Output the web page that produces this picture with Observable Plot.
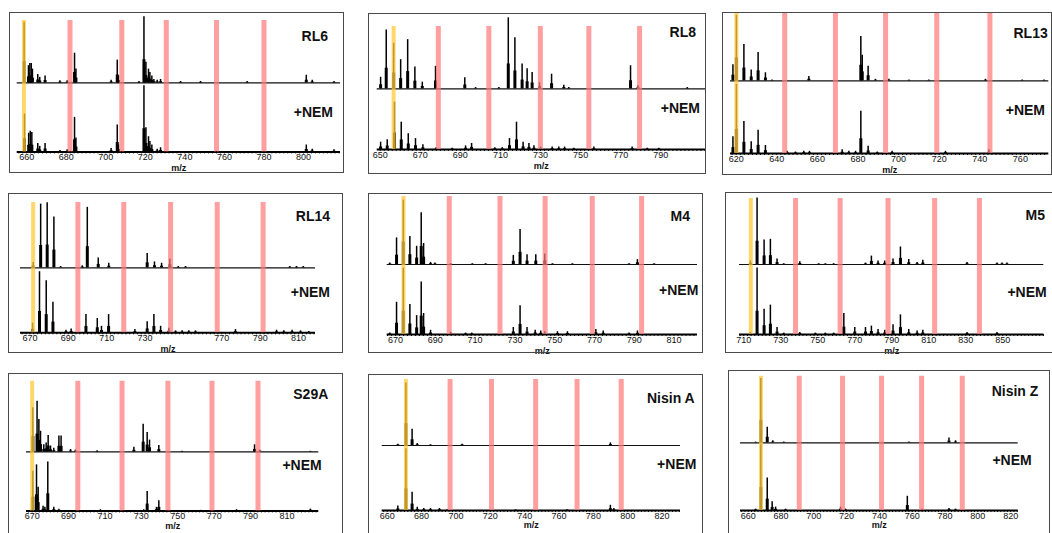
<!DOCTYPE html>
<html>
<head>
<meta charset="utf-8">
<script src="https://cdn.jsdelivr.net/npm/d3@7"></script>
<script src="https://cdn.jsdelivr.net/npm/@observablehq/plot@0.6"></script>
<style>
  html, body { margin: 0; padding: 0; background: #fff; }
  #page { position: relative; width: 1052px; height: 533px; overflow: hidden; font-family: "Liberation Sans", Arial, sans-serif; }
  .panel { position: absolute; }
  .panel svg { position: absolute; left: 0; top: 0; overflow: visible; background: transparent; }
  .frame { position: absolute; left: 0; top: 0; right: 0; bottom: 0; border: 1px solid #4a4a4a; box-sizing: border-box; pointer-events: none; }
  .lbl { position: absolute; font-weight: bold; font-size: 14px; line-height: 1; transform: translateY(-50%); white-space: nowrap; color: #111; }
</style>
</head>
<body>
<div id="page"></div>
<script>
// ---------- DATA: [m/z, relative intensity] (gap between the two baselines = 1) ----------
const rl6Top = [[658.7,0.88],[660.9,0.25],[661.6,0.28],[662.3,0.28],[662.9,0.2],[665.6,0.12],[666.6,0.08],[669.3,0.1],[676.8,0.03],[680.5,0.03],[684.2,0.43],[684.9,0.2],[702.7,0.04],[705.8,0.33],[706.4,0.1],[716.8,0.02],[719.3,0.96],[720.3,0.3],[721.6,0.2],[722.3,0.15],[723.3,0.1],[724.3,0.05],[726.0,0.04],[727.7,0.05],[737.8,0.02],[747.9,0.02],[771.5,0.02],[801.4,0.11],[804.4,0.04],[815.4,0.02]];
const rl6Nem = [[658.9,0.55],[661.0,0.27],[661.8,0.3],[662.6,0.28],[665.6,0.12],[666.6,0.08],[669.3,0.12],[676.8,0.02],[680.5,0.03],[684.2,0.5],[684.9,0.2],[702.7,0.05],[705.8,0.39],[706.4,0.1],[719.3,0.96],[720.3,0.35],[721.6,0.22],[722.3,0.15],[723.3,0.1],[726.0,0.04],[727.7,0.06],[801.4,0.1],[804.4,0.04],[815.4,0.03]];
const rl6Yellow = 658.6;
const rl6Pink = [681.9, 708.1, 730.6, 756.0, 780.0];
const rl6Ticks = [660, 680, 700, 720, 740, 760, 780, 800];

const rl8Top = [[650.2,0.19],[653.0,0.97],[656.7,0.75],[660.2,0.48],[663.7,0.81],[667.3,0.36],[671.0,0.11],[677.6,0.37],[692.2,0.18],[697.6,0.02],[709.2,0.02],[713.9,1.17],[717.2,0.84],[720.8,0.41],[723.3,0.33],[725.8,0.27],[729.5,0.1],[735.5,0.24],[741.6,0.06],[744.1,0.02],[774.9,0.38],[778.6,0.05],[803.2,0.02]];
const rl8Nem = [[650.2,0.12],[653.5,0.16],[657.1,0.78],[660.5,0.45],[664.0,0.26],[667.6,0.18],[671.3,0.08],[677.9,0.03],[685.9,0.02],[692.6,0.06],[695.6,0.1],[707.2,0.03],[710.9,0.03],[714.5,0.18],[718.0,0.45],[721.3,0.12],[724.2,0.1],[726.7,0.06],[730.0,0.04],[735.8,0.04],[739.1,0.04],[742.0,0.04],[746.6,0.02],[756.6,0.04],[775.7,0.04],[783.2,0.02],[789.0,0.02]];
const rl8Yellow = 656.7;
const rl8Pink = [679.0, 704.2, 729.9, 754.1, 779.4];
const rl8Ticks = [650, 670, 690, 710, 730, 750, 770, 790];

const rl13Top = [[618.4,0.22],[620.1,0.9],[623.8,0.5],[627.4,0.15],[630.8,0.39],[634.4,0.11],[637.7,0.01],[655.8,0.06],[681.4,0.61],[682.1,0.35],[685.0,0.2],[688.6,0.02],[695.2,0.02],[705.1,0.01],[714.9,0.01],[742.8,0.02],[760.9,0.01],[771.6,0.01]];
const rl13Nem = [[618.4,0.23],[620.1,0.95],[623.8,0.44],[627.4,0.16],[630.8,0.32],[634.4,0.11],[645.1,0.03],[649.2,0.02],[653.3,0.03],[656.1,0.03],[672.2,0.05],[675.5,0.03],[678.8,0.03],[681.4,0.58],[685.0,0.1],[689.5,0.02],[696.8,0.03],[723.1,0.03],[744.5,0.05]];
const rl13Yellow = 620.1;
const rl13Pink = [643.9, 668.9, 693.6, 718.8, 745.0];
const rl13Ticks = [620, 640, 660, 680, 700, 720, 740, 760];

const rl14Top = [[671.7,0.08],[675.6,0.98],[679.0,1.0],[682.5,0.78],[686.0,0.02],[697.3,0.03],[699.9,0.93],[705.6,0.15],[711.1,0.07],[731.1,0.22],[734.9,0.09],[738.6,0.07],[742.9,0.13],[747.3,0.02],[751.1,0.02],[805.4,0.02],[808.9,0.02],[812.4,0.02]];
const rl14Nem = [[671.4,0.15],[675.0,0.94],[678.5,0.8],[682.0,0.47],[688.8,0.04],[691.5,0.06],[699.2,0.28],[705.1,0.22],[707.3,0.1],[711.0,0.28],[724.7,0.05],[731.1,0.17],[734.6,0.28],[738.1,0.1],[742.4,0.07],[745.9,0.03],[749.3,0.03],[752.8,0.03],[756.3,0.03],[777.1,0.05],[798.5,0.04],[802.3,0.03],[806.6,0.04],[811.0,0.03],[815.3,0.02]];
const rl14Yellow = 671.7;
const rl14Pink = [695.0, 718.9, 743.3, 767.6, 791.5];
const rl14Ticks = [670, 690, 710, 730, 770, 790, 810];

const m4Top = [[667.1,0.02],[670.5,0.38],[673.9,0.92],[677.2,0.4],[680.6,0.26],[682.9,0.74],[684.1,0.3],[687.6,0.03],[689.8,0.02],[697.7,0.01],[708.6,0.01],[715.3,0.01],[729.2,0.13],[732.6,0.5],[736.1,0.14],[740.5,0.14],[745.0,0.15],[748.9,0.01],[758.9,0.01],[787.4,0.01],[791.6,0.07],[800.0,0.01]];
const m4Nem = [[667.1,0.02],[670.5,0.46],[673.9,0.95],[677.2,0.43],[680.6,0.27],[682.9,0.75],[684.1,0.3],[687.6,0.06],[697.7,0.03],[705.2,0.02],[708.3,0.02],[729.2,0.1],[732.6,0.41],[736.1,0.1],[740.2,0.06],[743.0,0.05],[745.0,0.04],[751.4,0.04],[756.4,0.04],[770.7,0.07],[774.4,0.05],[787.4,0.02],[791.6,0.05]];
const m4Yellow = 674.0;
const m4Pink = [697.0, 722.5, 745.2, 768.9, 793.7];
const m4Ticks = [670, 690, 710, 730, 750, 770, 790, 810];

const m5Top = [[713.6,0.05],[717.2,0.95],[721.0,0.35],[724.4,0.36],[728.0,0.08],[731.6,0.01],[740.3,0.04],[750.5,0.01],[754.1,0.01],[758.6,0.01],[775.8,0.02],[779.0,0.12],[782.6,0.05],[786.2,0.05],[790.7,0.08],[794.7,0.25],[799.2,0.07],[803.7,0.03],[806.8,0.06],[830.7,0.03],[846.9,0.02],[849.6,0.02],[852.3,0.02]];
const m5Nem = [[713.6,0.03],[717.2,0.95],[721.0,0.36],[724.4,0.42],[728.0,0.1],[731.6,0.02],[740.3,0.03],[748.7,0.02],[754.1,0.02],[758.6,0.02],[764.1,0.3],[770.0,0.1],[775.8,0.1],[779.0,0.12],[782.6,0.07],[786.2,0.06],[790.7,0.14],[794.7,0.28],[799.2,0.07],[803.7,0.05],[806.8,0.06],[830.7,0.03],[846.9,0.03]];
const m5Yellow = 713.8;
const m5Pink = [738.0, 762.1, 788.0, 813.2, 837.4];
const m5Ticks = [710, 730, 750, 770, 790, 810, 830, 850];

const s29aTop = [[670.4,0.75],[672.7,0.86],[673.7,0.55],[674.6,0.35],[676.4,0.12],[677.7,0.15],[678.8,0.28],[680.1,0.1],[681.9,0.06],[684.7,0.27],[685.9,0.27],[691.1,0.04],[693.8,0.03],[705.7,0.02],[725.9,0.08],[731.0,0.47],[733.2,0.33],[734.5,0.2],[739.6,0.11],[752.4,0.01],[792.2,0.12],[795.1,0.03],[822.9,0.01]];
const s29aNem = [[670.4,0.67],[672.4,0.78],[673.3,0.4],[676.0,0.08],[677.0,0.06],[678.6,0.83],[681.9,0.06],[684.7,0.03],[707.5,0.02],[731.3,0.02],[733.2,0.33],[738.3,0.06],[739.6,0.17],[762.5,0.01],[782.3,0.02],[822.9,0.03]];
const s29aYellow = 670.0;
const s29aPink = [695.1, 719.4, 744.6, 768.8, 794.1];
const s29aTicks = [670, 690, 710, 730, 750, 770, 790, 810];

const nisinATop = [[666.2,0.02],[670.9,0.96],[674.5,0.25],[677.5,0.03],[685.2,0.01],[703.6,0.02],[789.9,0.04]];
const nisinANem = [[666.2,0.07],[670.9,0.95],[674.5,0.28],[677.5,0.05],[681.3,0.03],[685.2,0.03],[690.4,0.03],[694.9,0.01],[734.7,0.01],[764.7,0.01],[789.9,0.08],[791.9,0.03]];
const nisinAYellow = 670.9;
const nisinAPink = [696.6, 720.7, 746.4, 770.5, 796.2];
const nisinATicks = [660, 680, 700, 720, 740, 760, 780, 800, 820];

const nisinZTop = [[664.5,0.01],[667.7,0.95],[671.6,0.23],[675.0,0.03],[681.7,0.01],[758.0,0.01],[782.4,0.07],[786.4,0.03]];
const nisinZNem = [[664.5,0.02],[667.7,0.97],[671.6,0.48],[674.6,0.13],[676.7,0.05],[682.8,0.02],[716.3,0.05],[719.3,0.02],[757.0,0.21],[766.1,0.02],[782.4,0.03],[786.4,0.02]];
const nisinZYellow = 667.8;
const nisinZPink = [691.1, 717.5, 741.3, 765.7, 790.5];
const nisinZTicks = [660, 680, 700, 720, 740, 760, 780, 800, 820];

const panelNames = ["RL6", "RL8", "RL13", "RL14", "M4", "M5", "S29A", "Nisin A", "Nisin Z"];
const nemLabel = "+NEM";
const xLabel = "m/z";

// ---------- LAYOUT (page px) ----------
const layouts = [
  {left: 9,   top: 12,  W: 335, H: 161, ml: 7.7, mr: 4,    mb: 21.6, u: 69,   domain: [655.2, 818.7], barTop: 8,  nameR: 16,  nameY: 24,   nemR: 11,  nemY: 100, labDy: 19},
  {left: 368, top: 13,  W: 338, H: 161, ml: 8.7, mr: 1,    mb: 25,   u: 60.7, domain: [648.5, 812.3], barTop: 13, nameR: 10,  nameY: 19,   nemR: 6,   nemY: 95,  labDy: 19},
  {left: 722, top: 12,  W: 330, H: 163, ml: 8,   mr: 3.7,  mb: 22,   u: 72.7, domain: [617.2, 774.0], barTop: 1,  nameR: 4.3, nameY: 21,   nemR: 7,   nemY: 98,  labDy: 19},
  {left: 8,   top: 193, W: 335, H: 160, ml: 12,  mr: 28,   mb: 20.7, u: 65,   domain: [665.1, 818.8], barTop: 9,  nameR: 13,  nameY: 22.7, nemR: 13,  nemY: 99,  labDy: 19},
  {left: 368, top: 193, W: 335, H: 160, ml: 18.7,mr: 6,    mb: 19,   u: 70,   domain: [665.8, 821.8], barTop: 3,  nameR: 13,  nameY: 22.7, nemR: 4.7, nemY: 97,  labDy: 19},
  {left: 725, top: 192, W: 335, H: 161, ml: 14,  mr: 16.7, mb: 19,   u: 70,   domain: [707.7, 872.2], barTop: 6,  nameR: 15,  nameY: 23,   nemR: 13.3,nemY: 100, labDy: 19},
  {left: 8,   top: 373, W: 335, H: 161, ml: 18,  mr: 24.7, mb: 23.6, u: 59,   domain: [666.9, 827.5], barTop: 7.7,nameR: 14.7,nameY: 21,   nemR: 21.3,nemY: 92.4,labDy: 18},
  {left: 368, top: 374, W: 335, H: 161, ml: 13.7,mr: 23,   mb: 25,   u: 65,   domain: [657.1, 830.7], barTop: 5,  nameR: 8.3, nameY: 24.3, nemR: 6.6, nemY: 90,  labDy: 17.5},
  {left: 728, top: 370, W: 322, H: 165, ml: 12,  mr: 32.3, mb: 25,   u: 67.7, domain: [655.3, 824.6], barTop: 5.7,nameR: 11.7,nameY: 21,   nemR: 18.3,nemY: 90,  labDy: 17.5}
];

const series = [
  [rl6Top, rl6Nem, rl6Yellow, rl6Pink, rl6Ticks],
  [rl8Top, rl8Nem, rl8Yellow, rl8Pink, rl8Ticks],
  [rl13Top, rl13Nem, rl13Yellow, rl13Pink, rl13Ticks],
  [rl14Top, rl14Nem, rl14Yellow, rl14Pink, rl14Ticks],
  [m4Top, m4Nem, m4Yellow, m4Pink, m4Ticks],
  [m5Top, m5Nem, m5Yellow, m5Pink, m5Ticks],
  [s29aTop, s29aNem, s29aYellow, s29aPink, s29aTicks],
  [nisinATop, nisinANem, nisinAYellow, nisinAPink, nisinATicks],
  [nisinZTop, nisinZNem, nisinZYellow, nisinZPink, nisinZTicks]
];

const page = document.getElementById("page");

series.forEach(([topS, nemS, yellow, pink, ticks], i) => {
  const L = layouts[i];
  const yMax = (L.H - L.mb) / L.u;
  const barY2 = yMax - L.barTop / L.u;
  const peaks = [
    ...topS.map(([mz, h]) => ({mz, y1: 1, y2: 1 + h})),
    ...nemS.map(([mz, h]) => ({mz, y1: 0, y2: h}))
  ];
  const minor = d3.range(Math.ceil(L.domain[0] / 2) * 2, L.domain[1], 2);
  const chart = Plot.plot({
    width: L.W, height: L.H,
    marginLeft: L.ml, marginRight: L.mr, marginTop: 0, marginBottom: L.mb,
    style: {fontFamily: '"Liberation Sans", Arial, sans-serif', background: "transparent", color: "#111"},
    x: {domain: L.domain, label: null},
    y: {domain: [0, yMax], axis: null, label: null},
    marks: [
      Plot.ruleY([1], {stroke: "#111", strokeWidth: 1.2}),
      Plot.ruleX(peaks, {x: "mz", y1: "y1", y2: "y2", stroke: "#000", strokeWidth: 1.5}),
      Plot.ruleX(peaks, {x: "mz", y1: "y1", y2: d => d.y1 + (d.y2 - d.y1) * 0.35, stroke: "#000", strokeWidth: 3}),
      Plot.ruleY([0], {stroke: "#000", strokeWidth: 2}),
      Plot.ruleX(pink, {x: d => d, y1: 0, y2: barY2, stroke: "#ff7a7a", strokeOpacity: 0.72, strokeWidth: 5}),
      Plot.ruleX([yellow], {x: d => d, y1: 0, y2: barY2, stroke: "#ffc93a", strokeOpacity: 0.75, strokeWidth: 4}),
      Plot.axisX({ticks: minor, tickSize: 2, tickFormat: () => "", stroke: "#000"}),
      Plot.axisX({ticks: ticks, tickSize: 0, tickPadding: 2, tickFormat: d => String(d), fontSize: 9, fill: "#111"}),
      Plot.text([xLabel], {frameAnchor: "bottom", dy: L.labDy, fontSize: 9, fill: "#111", fontWeight: "bold"})
    ]
  });
  const div = document.createElement("div");
  div.className = "panel";
  div.style.left = L.left + "px";
  div.style.top = L.top + "px";
  div.style.width = L.W + "px";
  div.style.height = L.H + "px";
  div.appendChild(chart);
  const frame = document.createElement("div");
  frame.className = "frame";
  div.appendChild(frame);
  const n1 = document.createElement("div");
  n1.className = "lbl";
  n1.textContent = panelNames[i];
  n1.style.right = L.nameR + "px";
  n1.style.top = L.nameY + "px";
  div.appendChild(n1);
  const n2 = document.createElement("div");
  n2.className = "lbl";
  n2.textContent = nemLabel;
  n2.style.right = L.nemR + "px";
  n2.style.top = L.nemY + "px";
  div.appendChild(n2);
  page.appendChild(div);
});
</script>
</body>
</html>
